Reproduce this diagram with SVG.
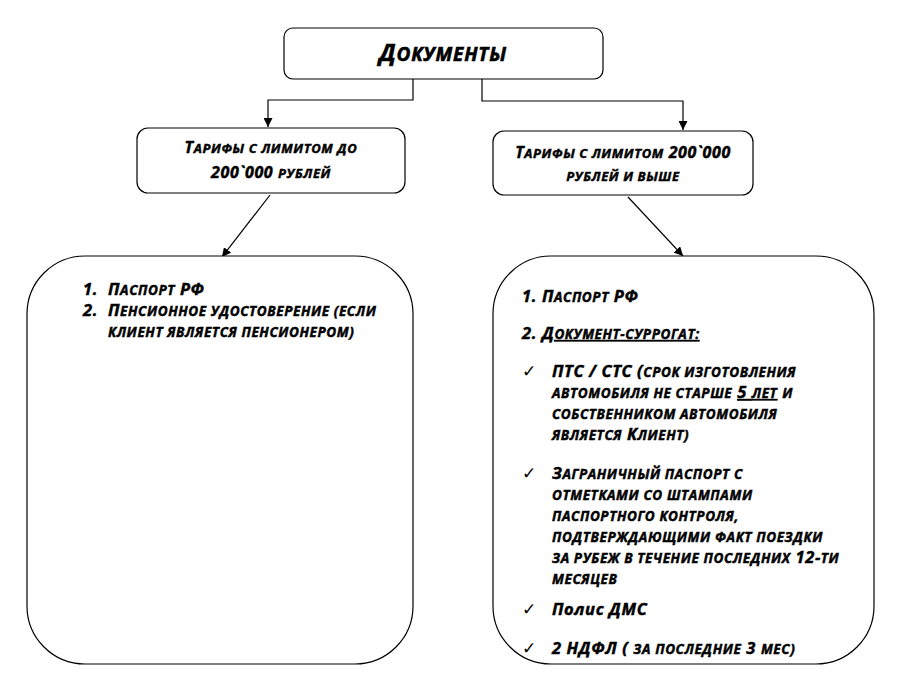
<svg xmlns="http://www.w3.org/2000/svg" width="900" height="692" viewBox="0 0 900 692">
<style>
.box{fill:#fff;stroke:#000;stroke-width:1.2}
.t{font-family:"Open Sans","DejaVu Sans",sans-serif;font-weight:700;font-style:italic;font-size:16.5px;letter-spacing:0.6px;fill:#000;stroke:#000;stroke-width:0.45px}
.s{text-transform:uppercase;font-size:13.5px}
.h{font-size:16px}
.h .s{font-size:13px}
.ti{font-size:23px;letter-spacing:0.8px;stroke-width:0.6px}
.ti .s{font-size:19px}
.u{text-decoration:underline}
.ck{font-family:"DejaVu Sans",sans-serif;font-size:17px;fill:#000}
.c{fill:none;stroke:#000;stroke-width:1.2}
</style>
<defs>
<marker id="ah" viewBox="0 0 10 10" refX="10" refY="5" markerWidth="9" markerHeight="9" markerUnits="userSpaceOnUse" orient="auto">
<path d="M0,0 L10,5 L0,10 Z" fill="#000"/>
</marker>
</defs>
<rect width="900" height="692" fill="#fff"/>
<g id="connectors">
<path class="c" d="M413,79 V100 H268 V127" marker-end="url(#ah)"/>
<path class="c" d="M482,79 V101 H683 V130" marker-end="url(#ah)"/>
<path class="c" d="M270,195 L222,257" marker-end="url(#ah)"/>
<path class="c" d="M628,197 L683,256" marker-end="url(#ah)"/>
</g>
<g id="node-documents">
<rect class="box" x="284" y="28" width="319" height="51" rx="9"/>
<text class="t ti" x="443" y="61" text-anchor="middle">Д<tspan class="s">окументы</tspan></text>
</g>
<g id="node-tariff-low">
<rect class="box" x="137" y="128" width="268" height="65" rx="11"/>
<text class="t h" x="271" y="153" text-anchor="middle">Т<tspan class="s">арифы с лимитом до</tspan></text>
<text class="t h" x="271" y="178" text-anchor="middle">200`000 <tspan class="s">рублей</tspan></text>
</g>
<g id="node-tariff-high">
<rect class="box" x="493" y="131" width="260" height="64" rx="11"/>
<text class="t h" x="623" y="158" text-anchor="middle">Т<tspan class="s">арифы с лимитом</tspan> 200`000</text>
<text class="t h" x="623" y="181" text-anchor="middle"><tspan class="s">рублей и выше</tspan></text>
</g>
<g id="node-docs-low">
<rect class="box" x="27" y="256" width="386" height="408" rx="58"/>
<text class="t"><tspan x="83" y="295">1.</tspan><tspan x="108">П</tspan><tspan class="s">аспорт</tspan> РФ</text>
<text class="t"><tspan x="83" y="316">2.</tspan><tspan x="108">П</tspan><tspan class="s">енсионное удостоверение (если</tspan></text>
<text class="t" x="108" y="337"><tspan class="s">клиент является пенсионером)</tspan></text>
</g>
<g id="node-docs-high">
<rect class="box" x="493" y="256" width="381" height="408" rx="58"/>
<text class="t" x="522" y="302">1. П<tspan class="s">аспорт</tspan> РФ</text>
<text class="t" x="522" y="339">2. <tspan class="u">Д<tspan class="s">окумент-суррогат:</tspan></tspan></text>
<text class="ck" x="522" y="377">✓</text>
<text class="t" x="552" y="377">ПТС / СТС (<tspan class="s">срок изготовления</tspan></text>
<text class="t" x="552" y="398"><tspan class="s">автомобиля не старше</tspan> <tspan class="u">5 <tspan class="s">лет</tspan></tspan> <tspan class="s">и</tspan></text>
<text class="t" x="552" y="419"><tspan class="s">собственником автомобиля</tspan></text>
<text class="t" x="552" y="440"><tspan class="s">является</tspan> К<tspan class="s">лиент)</tspan></text>
<text class="ck" x="522" y="479">✓</text>
<text class="t" x="552" y="479">З<tspan class="s">аграничный паспорт с</tspan></text>
<text class="t" x="552" y="500"><tspan class="s">отметками со штампами</tspan></text>
<text class="t" x="552" y="521"><tspan class="s">паспортного контроля,</tspan></text>
<text class="t" x="552" y="542"><tspan class="s">подтверждающими факт поездки</tspan></text>
<text class="t" x="552" y="563"><tspan class="s">за рубеж в течение последних</tspan> 12-<tspan class="s">ти</tspan></text>
<text class="t" x="552" y="584"><tspan class="s">месяцев</tspan></text>
<text class="ck" x="522" y="615">✓</text>
<text class="t" x="552" y="615">Полис ДМС</text>
<text class="ck" x="522" y="654">✓</text>
<text class="t" x="552" y="654">2 НДФЛ ( <tspan class="s">за последние</tspan> 3 <tspan class="s">мес)</tspan></text>
</g>
</svg>
